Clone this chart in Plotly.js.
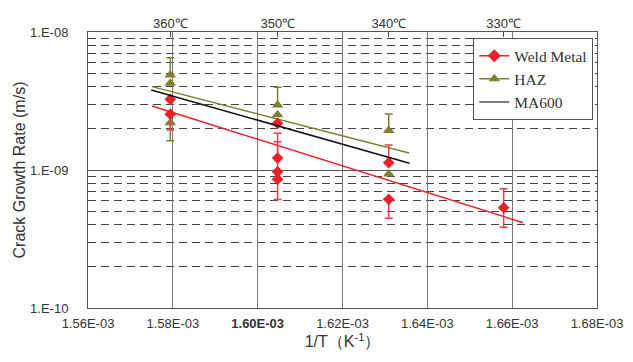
<!DOCTYPE html>
<html>
<head>
<meta charset="utf-8">
<script src="https://cdn.plot.ly/plotly-3.0.1.min.js"></script>
<style>html,body{margin:0;padding:0;background:#fff;}#chart{width:633px;height:362px;}</style>
</head>
<body>
<div id="chart"></div>
<script>
// ---- data ----
// Weld Metal measurements
const weldX = [1.5794e-3, 1.5794e-3, 1.6047e-3, 1.6047e-3, 1.6047e-3, 1.6047e-3, 1.6309e-3, 1.6309e-3, 1.6580e-3];
const weldY = [3.25e-9, 2.54e-9, 2.18e-9, 1.22e-9, 0.97e-9, 0.857e-9, 1.13e-9, 0.613e-9, 0.533e-9];
const weldErrPlus  = [0, 0, 0, 0.38e-9, 0.88e-9, 0, 0.39e-9, 0, 0.197e-9];
const weldErrMinus = [0, 0.59e-9, 0, 0, 0, 0.247e-9, 0, 0.166e-9, 0.148e-9];
// HAZ measurements
const hazX = [1.5794e-3, 1.5794e-3, 1.5794e-3, 1.6047e-3, 1.6047e-3, 1.6309e-3, 1.6309e-3];
const hazY = [4.88e-9, 4.25e-9, 2.2e-9, 2.96e-9, 2.51e-9, 1.93e-9, 0.935e-9];
const hazErrPlus  = [1.62e-9, 0, 0, 1.02e-9, 0, 0.62e-9, 0];
const hazErrMinus = [0, 0, 0.57e-9, 0, 0, 0, 0];
// Fit lines
const weldFitX = [1.5751e-3, 1.6626e-3];
const weldFitY = [2.91e-9, 4.15e-10];
const hazFitX = [1.5751e-3, 1.6357e-3];
const hazFitY = [4.02e-9, 1.33e-9];
const ma600FitX = [1.5749e-3, 1.6358e-3];
const ma600FitY = [3.80e-9, 1.12e-9];
// Legend names
const seriesNames = ['Weld Metal', 'HAZ', 'MA600'];
// Axis ticks
const xTickVals = [1.56e-3, 1.58e-3, 1.60e-3, 1.62e-3, 1.64e-3, 1.66e-3, 1.68e-3];
const xTickText = ['1.56E-03', '1.58E-03', '<b>1.60E-03</b>', '1.62E-03', '1.64E-03', '1.66E-03', '1.68E-03'];
const yTickVals = [1e-10, 1e-9, 1e-8];
const yTickText = ['1.E-10', '1.E-09', '1.E-08'];
const yMinorVals = [2e-10,3e-10,4e-10,5e-10,6e-10,7e-10,8e-10,9e-10,2e-9,3e-9,4e-9,5e-9,6e-9,7e-9,8e-9,9e-9];
const tempC = [360, 350, 340, 330];
const tempLabels = ['360℃', '350℃', '340℃', '330℃'];
const tempTickVals = tempC.map(t => 1 / (t + 273.15));

const RED = '#e8202a';
const OLIVE = '#7f7f32';
const font = {family: 'Liberation Sans, Arial, sans-serif', color: '#333'};

const traces = [
  // fit lines
  {x: weldFitX, y: weldFitY, type: 'scatter', mode: 'lines', showlegend: false,
   line: {color: RED, width: 1.5}},
  {x: hazFitX, y: hazFitY, type: 'scatter', mode: 'lines', showlegend: false,
   line: {color: OLIVE, width: 1.5}},
  {x: ma600FitX, y: ma600FitY, type: 'scatter', mode: 'lines', showlegend: false,
   xaxis: 'x2', line: {color: '#111', width: 1.5}},
  // measurements
  {x: hazX, y: hazY, type: 'scatter', mode: 'markers', showlegend: false,
   marker: {symbol: 'triangle-up', color: OLIVE, size: 10},
   error_y: {type: 'data', symmetric: false, array: hazErrPlus, arrayminus: hazErrMinus,
             color: OLIVE, thickness: 1.5, width: 4}},
  {x: weldX, y: weldY, type: 'scatter', mode: 'markers', showlegend: false,
   marker: {symbol: 'diamond', color: RED, size: 9},
   error_y: {type: 'data', symmetric: false, array: weldErrPlus, arrayminus: weldErrMinus,
             color: '#e8404a', thickness: 1.5, width: 4}},
  // legend entries
  {x: [null], y: [null], type: 'scatter', mode: 'lines+markers', name: seriesNames[0],
   line: {color: RED, width: 1.5}, marker: {symbol: 'diamond', color: RED, size: 10}},
  {x: [null], y: [null], type: 'scatter', mode: 'lines+markers', name: seriesNames[1],
   line: {color: OLIVE, width: 1.5}, marker: {symbol: 'triangle-up', color: OLIVE, size: 10}},
  {x: [null], y: [null], type: 'scatter', mode: 'lines', name: seriesNames[2],
   line: {color: '#555', width: 1.5}}
];

const layout = {
  width: 633, height: 362,
  margin: {l: 88, r: 36, t: 32, b: 54},
  paper_bgcolor: '#fff', plot_bgcolor: '#fff',
  font: font,
  showlegend: true,
  legend: {x: 0.757, y: 0.978, xanchor: 'left', yanchor: 'top',
           bgcolor: '#fff', bordercolor: '#555', borderwidth: 1,
           itemwidth: 30, tracegroupgap: 0,
           font: {family: 'Liberation Serif, Times New Roman, serif', size: 15.5, color: '#333'}},
  xaxis: {
    type: 'linear', range: [1.56e-3, 1.68e-3],
    tickvals: xTickVals, ticktext: xTickText,
    tickfont: {size: 13, color: '#333'},
    ticks: 'outside', ticklen: 3, tickcolor: 'rgba(0,0,0,0)',
    showgrid: true, gridcolor: '#777', gridwidth: 1.2,
    showline: true, linecolor: '#555', linewidth: 1, mirror: true,
    zeroline: false,
    title: {text: '1/T（K<sup>-1</sup>）', font: {size: 16, color: '#333'}, standoff: 6}
  },
  xaxis2: {
    overlaying: 'x', side: 'top', range: [1.56e-3, 1.68e-3],
    tickvals: tempTickVals, ticktext: tempLabels,
    tickfont: {size: 13, color: '#333'},
    ticks: 'inside', ticklen: 5, tickcolor: '#444',
    showgrid: false, showline: false, zeroline: false
  },
  yaxis: {
    type: 'log', range: [-10, -8],
    tickvals: yTickVals, ticktext: yTickText,
    tickfont: {size: 13, color: '#333'},
    ticks: '', ticklabelstandoff: 16,
    showgrid: true, gridcolor: '#555', gridwidth: 1,
    minor: {tickvals: yMinorVals, showgrid: true, gridcolor: '#444', griddash: '8px,5px', gridwidth: 1, ticks: ''},
    showline: true, linecolor: '#555', linewidth: 1, mirror: true,
    zeroline: false,
    title: {text: 'Crack Growth Rate (m/s)', font: {size: 16, color: '#333'}, standoff: 0}
  }
};

Plotly.newPlot('chart', traces, layout, {displayModeBar: false, staticPlot: true});
</script>
</body>
</html>
